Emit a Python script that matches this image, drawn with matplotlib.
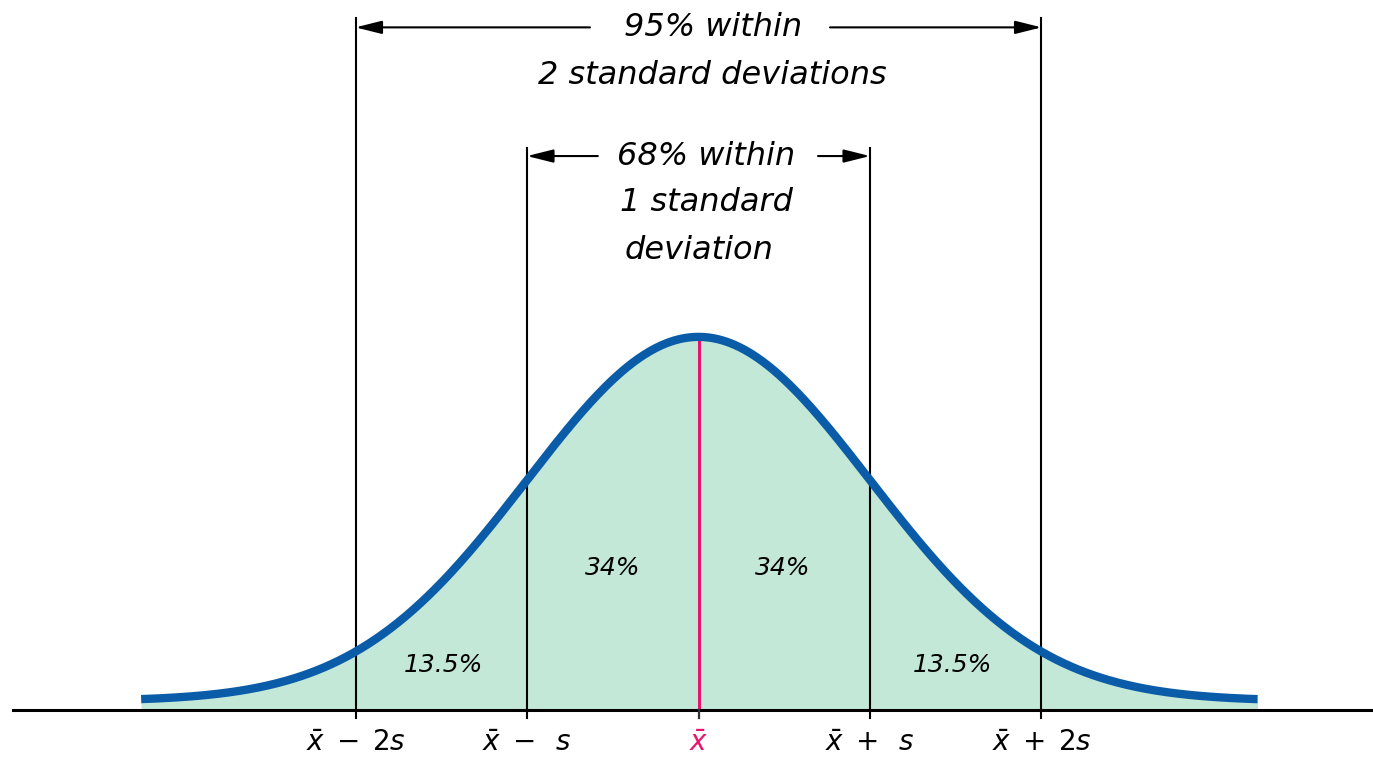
import numpy as np
import matplotlib
matplotlib.use("Agg")
import matplotlib.pyplot as plt

plt.rcParams['font.family'] = ['DejaVu Sans']
plt.rcParams['mathtext.fontset'] = 'dejavusans'

# marks in standard deviations from the mean
sd_marks = [-2, -1, 0, 1, 2]
tick_labels = [r'$\bar{x}\;-\;2s$', r'$\bar{x}\;-\;\;s$', r'$\bar{x}$',
               r'$\bar{x}\;+\;\;s$', r'$\bar{x}\;+\;2s$']
# area shares between marks
area_labels = ['13.5%', '34%', '34%', '13.5%']
area_pos = [-1.49, -0.50, 0.49, 1.48]
area_y = [0.049, 0.156, 0.156, 0.049]

curve_floor = 0.0099   # the drawn curve sits a touch above the axis
z_lo, z_hi = -3.25, 3.26

BLUE = '#0a5ca8'
FILL = '#c4e8d8'
PINK = '#e8146e'

z = np.linspace(z_lo, z_hi, 600)
dens = np.exp(-z ** 2 / 2) / np.sqrt(2 * np.pi) + curve_floor

def curve_at(v):
    return np.exp(-v ** 2 / 2) / np.sqrt(2 * np.pi) + curve_floor

fig = plt.figure(figsize=(13.73, 7.61), dpi=100)
ax = fig.add_axes([0, 0, 1, 1])
ax.set_xlim(-4.073, 3.933)
ax.set_ylim(-0.0559, 0.778)
ax.axis('off')

ax.fill_between(z, 0, dens, color=FILL, lw=0, zorder=1)
ax.axhline(0, xmin=13 / 1373, xmax=1, color='black', lw=2.2, zorder=3)

tops = {2: 0.758, 1: 0.616}
for m in sd_marks:
    if m == 0:
        ax.plot([0, 0], [-0.009, 0], color='#333333', lw=1.6, zorder=3)
        ax.plot([0, 0], [0, curve_at(0)], color=PINK, lw=2.2, zorder=2)
    else:
        ax.plot([m, m], [-0.009, tops[abs(m)]], color='black', lw=1.5, zorder=2)

ax.plot(z, dens, color=BLUE, lw=6, solid_capstyle='butt', zorder=4)

for m, lab in zip(sd_marks, tick_labels):
    ax.text(m, -0.036, lab, ha='center', va='center', fontsize=20,
            color=PINK if m == 0 else 'black')

for x, y, lab in zip(area_pos, area_y, area_labels):
    ax.text(x, y, lab, ha='center', va='center', fontsize=18, style='oblique')

arrow = dict(arrowstyle='-|>,head_length=1.6,head_width=0.4', color='black',
             lw=1.5, shrinkA=0, shrinkB=0)
txt = dict(ha='center', va='center', fontsize=23, style='oblique')
# 95% bracket
ax.annotate('', xy=(-2, 0.748), xytext=(-0.633, 0.748), arrowprops=arrow)
ax.annotate('', xy=(2, 0.748), xytext=(0.767, 0.748), arrowprops=arrow)
ax.text(0.085, 0.748, '95% within', **txt)
ax.text(0.08, 0.695, '2 standard deviations', **txt)
# 68% bracket
ax.annotate('', xy=(-1, 0.607), xytext=(-0.587, 0.607), arrowprops=arrow)
ax.annotate('', xy=(1, 0.607), xytext=(0.697, 0.607), arrowprops=arrow)
ax.text(0.044, 0.607, '68% within', **txt)
ax.text(0.044, 0.556, '1 standard', **txt)
ax.text(0.0, 0.504, 'deviation', **txt)

fig.savefig('out.png', dpi=100)
